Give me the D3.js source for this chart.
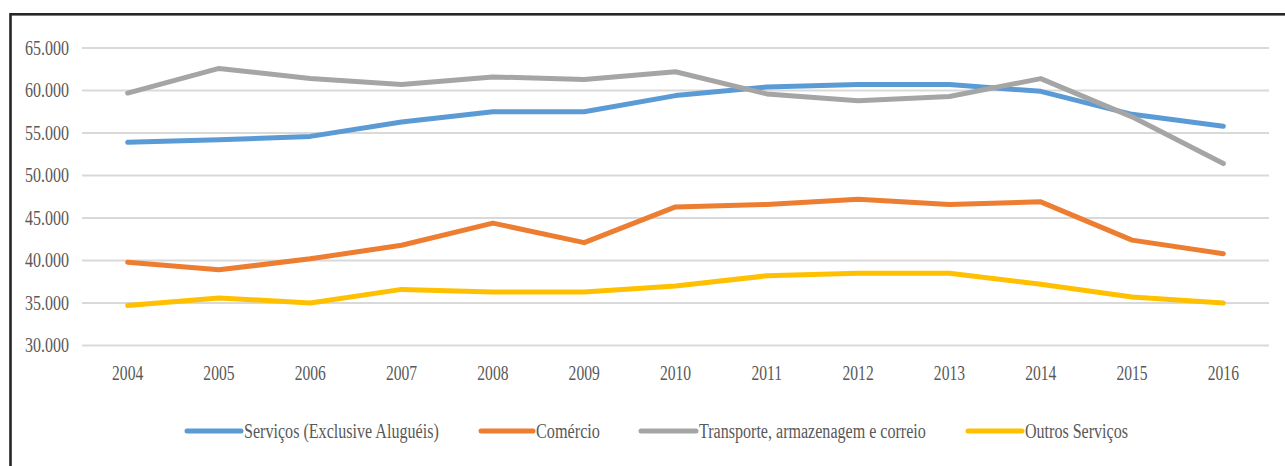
<!DOCTYPE html>
<html>
<head>
<meta charset="utf-8">
<script src="https://cdn.jsdelivr.net/npm/d3@7/dist/d3.min.js"></script>
<style>
  html, body { margin: 0; padding: 0; background: #fff; }
  svg { display: block; }
</style>
</head>
<body>
<svg id="chart" width="1285" height="466"></svg>
<script>
const years = ["2004","2005","2006","2007","2008","2009","2010","2011","2012","2013","2014","2015","2016"];
const servicos   = [53900, 54200, 54600, 56300, 57500, 57500, 59400, 60400, 60700, 60700, 59900, 57200, 55800];
const comercio   = [39800, 38900, 40200, 41800, 44400, 42100, 46300, 46600, 47200, 46600, 46900, 42400, 40800];
const transporte = [59700, 62600, 61400, 60700, 61600, 61300, 62200, 59600, 58800, 59300, 61400, 56900, 51400];
const outros     = [34700, 35600, 35000, 36600, 36300, 36300, 37000, 38200, 38500, 38500, 37200, 35700, 35000];
const seriesNames = ["Serviços (Exclusive Aluguéis)", "Comércio", "Transporte, armazenagem e correio", "Outros Serviços"];
const seriesColors = ["#5B9BD5", "#ED7D31", "#A5A5A5", "#FFC000"];
const yTicks = [30000, 35000, 40000, 45000, 50000, 55000, 60000, 65000];

const seriesData = [servicos, comercio, transporte, outros];
const svg = d3.select("#chart");
const FONT = "'Liberation Serif', 'Times New Roman', 'DejaVu Serif', serif";

// border
svg.append("rect").attr("x", 10.5).attr("y", 14.3).attr("width", 1290).attr("height", 470)
  .attr("fill", "none").attr("stroke", "#262626").attr("stroke-width", 2.6);

const x = d3.scalePoint().domain(years).range([82, 1269]).padding(0.5);
const y = d3.scaleLinear().domain([30000, 65000]).range([345.5, 48]);

const loc = d3.formatLocale({decimal: ",", thousands: ".", grouping: [3], currency: ["", ""]});
const fmt = loc.format(",.0f");

// gridlines
svg.append("g").selectAll("line").data(yTicks).join("line")
  .attr("x1", 82).attr("x2", 1269)
  .attr("y1", d => y(d)).attr("y2", d => y(d))
  .attr("stroke", "#D9D9D9").attr("stroke-width", 2);

function label(parent, tx, ty, txt, anchor, size, sx) {
  const g = parent.append("g").attr("transform", `translate(${tx},${ty}) scale(${sx},1)`);
  g.append("text").attr("text-anchor", anchor).attr("dominant-baseline", "central")
    .attr("font-family", FONT).attr("fill", "#595959")
    .attr("font-size", size).text(txt);
  return g;
}

// y labels
const yl = svg.append("g");
yTicks.forEach(t => label(yl, 69, y(t), fmt(t), "end", 20, 0.8));

// x labels
const xl = svg.append("g");
years.forEach(yr => label(xl, x(yr), 373, yr, "middle", 20, 0.78));

// lines
const line = d3.line().x((d, i) => x(years[i])).y(d => y(d));
svg.append("g").selectAll("path").data([0, 1, 2, 3]).join("path")
  .attr("d", i => line(seriesData[i]))
  .attr("fill", "none")
  .attr("stroke", i => seriesColors[i])
  .attr("stroke-width", 5)
  .attr("stroke-linejoin", "round")
  .attr("stroke-linecap", "round");

// legend
const legendX = [187, 481, 641, 968];
const legendW = [54, 52, 55, 54];
const legendTextW = [195, 64, 227, 103];
const lg = svg.append("g");
seriesNames.forEach((n, i) => {
  lg.append("line").attr("x1", legendX[i]).attr("x2", legendX[i] + legendW[i])
    .attr("y1", 431).attr("y2", 431)
    .attr("stroke", seriesColors[i]).attr("stroke-width", 5).attr("stroke-linecap", "round");
  const tx = legendX[i] + legendW[i] + 3;
  const g = label(lg, tx, 431, n, "start", 20, 1);
  const w = g.select("text").node().getComputedTextLength();
  const sx = w > 0 ? legendTextW[i] / w : 0.78;
  g.attr("transform", `translate(${tx},431) scale(${sx},1)`);
});
</script>
</body>
</html>
